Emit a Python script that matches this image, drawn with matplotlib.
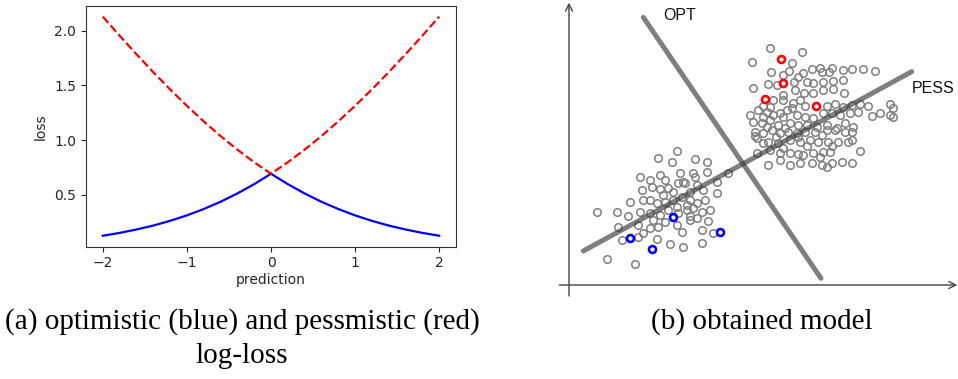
import numpy as np
import matplotlib
matplotlib.use("Agg")
import matplotlib.pyplot as plt

# ---------------- data: panel (a) ----------------
prediction = [-2.0, -1.8, -1.6, -1.4, -1.2, -1.0, -0.8, -0.6, -0.4, -0.2, 0.0,
              0.2, 0.4, 0.6, 0.8, 1.0, 1.2, 1.4, 1.6, 1.8, 2.0]
optimistic_loss = [0.127, 0.153, 0.184, 0.220, 0.263, 0.313, 0.371, 0.437, 0.513, 0.598, 0.693,
                   0.598, 0.513, 0.437, 0.371, 0.313, 0.263, 0.220, 0.184, 0.153, 0.127]
pessimistic_loss = [2.127, 1.953, 1.784, 1.620, 1.463, 1.313, 1.171, 1.037, 0.913, 0.798, 0.693,
                    0.798, 0.913, 1.037, 1.171, 1.313, 1.463, 1.620, 1.784, 1.953, 2.127]
x_ticks = [-2, -1, 0, 1, 2]
y_ticks = [0.5, 1.0, 1.5, 2.0]

# ---------------- data: panel (b) (sketch units) ----------------
upper_x = [660, 757, 605, 727,
           664, 718, 760, 785, 810, 845, 880, 905, 940, 975, 815, 838, 700, 745,
           655, 680, 732, 770, 790, 820, 850, 880, 610, 735, 762, 882, 700, 790, 820, 850,
           670, 700, 730, 750, 765, 830, 855, 880, 905, 930, 955, 1020, 1030, 640, 660, 725,
           600, 625, 650, 670, 690, 710, 740, 765, 790, 820, 845, 870, 900, 925, 965, 990, 1020, 1030, 640, 700,
           610, 635, 660, 685, 720, 745, 770, 800, 830, 860, 885, 910, 650, 705,
           615, 640, 665, 690, 715, 740, 765, 795, 830, 855, 885, 905, 615, 678, 745, 815,
           620, 655, 685, 720, 750, 780, 805, 835, 865, 895, 905, 640, 770, 845,
           620, 660, 690, 720, 745, 790, 820, 840, 930, 700, 810, 760,
           655, 720, 750, 785, 815, 845, 875, 905, 690, 830]
upper_y = [145, 155, 185, 188,
           215, 212, 220, 208, 205, 205, 210, 207, 207, 212, 215, 215, 225, 232,
           252, 255, 245, 245, 250, 245, 243, 240, 265, 270, 280, 278, 285, 278, 270, 268,
           300, 300, 310, 300, 318, 318, 312, 320, 315, 312, 318, 312, 325, 318, 322, 325,
           345, 330, 335, 345, 340, 330, 345, 350, 355, 340, 340, 345, 340, 335, 348, 338, 345, 350, 350, 352,
           365, 370, 360, 375, 370, 375, 375, 380, 375, 385, 370, 380, 380, 385,
           395, 400, 390, 400, 395, 400, 395, 395, 390, 390, 395, 395, 408, 410, 410, 405,
           415, 425, 428, 420, 425, 420, 425, 425, 425, 425, 420, 430, 438, 438,
           460, 450, 460, 458, 462, 460, 455, 455, 452, 445, 470, 465,
           495, 495, 490, 490, 495, 490, 485, 490, 480, 500]
lower_x = [380, 325, 365, 435, 470,
           270, 300, 330, 345, 390, 430, 470, 500, 535, 400, 435,
           275, 305, 330, 355, 385, 405, 440, 460, 500, 370, 420, 340,
           240, 280, 300, 320, 345, 370, 395, 420, 440, 465, 410, 380,
           140, 200, 235, 270, 300, 330, 355, 385, 410, 430, 455, 480, 310, 420,
           205, 265, 300, 325, 345, 380, 420, 440, 475, 280,
           215, 265, 320, 395, 455, 490,
           360, 400, 455,
           170, 255]
lower_y = [452, 475, 485, 478, 487,
           530, 540, 525, 540, 520, 520, 515, 545, 520, 545, 530,
           570, 560, 568, 565, 550, 548, 555, 570, 580, 575, 575, 585,
           605, 600, 600, 610, 605, 600, 590, 600, 610, 600, 615, 620,
           637, 637, 648, 635, 640, 645, 630, 640, 630, 625, 635, 630, 660, 648,
           680, 675, 685, 680, 665, 675, 660, 655, 662, 700,
           720, 712, 718, 695, 690, 700,
           732, 740, 730,
           778, 792]
red_x = [693, 698, 646, 797]
red_y = [178, 250, 298, 318]
blue_x = [240, 305, 370, 510]
blue_y = [715, 748, 652, 697]
opt_x = [280, 813]
opt_y = [52, 835]
pess_x = [100, 1085]
pess_y = [753, 215]

W, H = 958, 379
fig = plt.figure(figsize=(W / 100, H / 100), dpi=100)

# ---------------- panel (a) ----------------
ax1 = fig.add_axes([86 / W, 1 - 246.7 / H, 370 / W, 241 / H])
ax1.plot(prediction, optimistic_loss, color="blue", lw=1.6)
ax1.plot(prediction, pessimistic_loss, color="red", lw=1.6, ls="--")
ax1.set_xticks(x_ticks)
ax1.set_yticks(y_ticks)
ax1.tick_params(labelsize=10, colors="#262626")
ax1.set_xlabel("prediction", fontsize=10, color="#262626", labelpad=2)
ax1.set_ylabel("loss", fontsize=10, color="#262626", labelpad=5)
for s in ax1.spines.values():
    s.set_color("#333333")

# ---------------- panel (b) ----------------
ax2 = fig.add_axes([550 / W, 1 - 300 / H, 408 / W, 300 / H])
ax2.set_xlim(0, 1224)
ax2.set_ylim(900, 0)
ax2.axis("off")

arrow_kw = dict(arrowstyle="->,head_length=0.5,head_width=0.25", color="#444444", lw=1.0,
                shrinkA=0, shrinkB=0)
ax2.annotate("", xy=(57, 8), xytext=(57, 888), arrowprops=arrow_kw)
ax2.annotate("", xy=(1222, 855), xytext=(28, 855), arrowprops=arrow_kw)

ax2.plot(upper_x, upper_y, ls="none", marker="o", ms=5.4, mew=1.1,
         mfc="none", mec="#7f7f7f", zorder=2)
ax2.plot(lower_x, lower_y, ls="none", marker="o", ms=5.4, mew=1.1,
         mfc="none", mec="#7f7f7f", zorder=2)
ax2.plot(opt_x, opt_y, color="#3a3a3a", alpha=0.65, lw=3.6,
         solid_capstyle="round", zorder=3)
ax2.plot(pess_x, pess_y, color="#3a3a3a", alpha=0.65, lw=3.6,
         solid_capstyle="round", zorder=3)
ax2.plot(red_x, red_y, ls="none", marker="o", ms=5.0, mew=1.9,
         mfc="none", mec="red", zorder=4)
ax2.plot(blue_x, blue_y, ls="none", marker="o", ms=5.0, mew=1.9,
         mfc="none", mec="blue", zorder=4)
ax2.text(390, 48, "OPT", fontsize=11.5, family="Liberation Sans",
         ha="center", va="center", color="#111111")
ax2.text(1150, 265, "PESS", fontsize=11.5, family="Liberation Sans",
         ha="center", va="center", color="#111111")

# ---------------- captions ----------------
cap_kw = dict(family="Liberation Serif", fontsize=21, ha="center", va="center",
              color="black")
fig.text(242 / W, 1 - 322 / H, "(a) optimistic (blue) and pessmistic (red)", **cap_kw)
fig.text(242 / W, 1 - 356 / H, "log-loss", **cap_kw)
fig.text(762 / W, 1 - 322 / H, "(b) obtained model", **cap_kw)

fig.savefig("out.png", dpi=100)
